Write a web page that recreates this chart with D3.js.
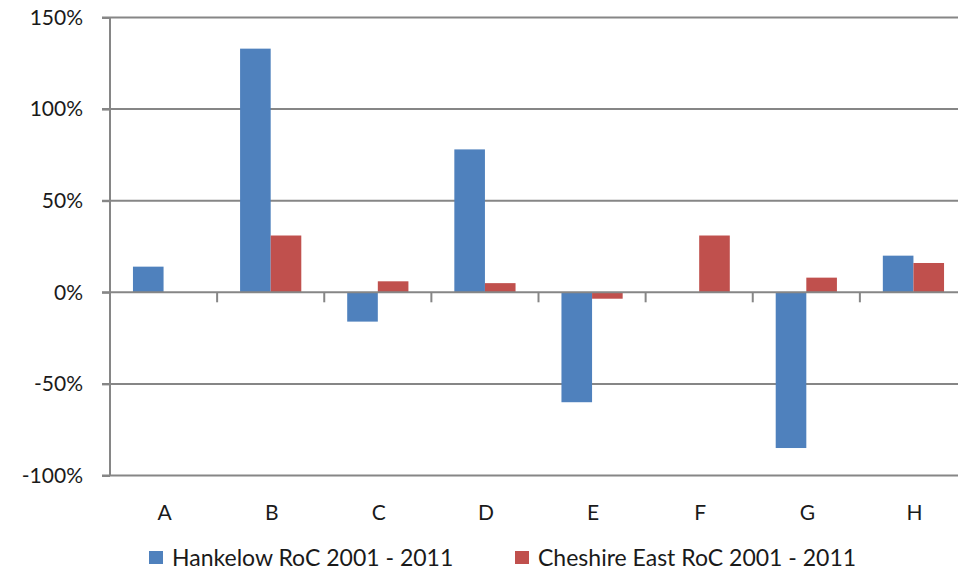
<!DOCTYPE html>
<html>
<head>
<meta charset="utf-8">
<script src="https://cdn.jsdelivr.net/npm/d3@7"></script>
<style>
  html, body { margin: 0; padding: 0; background: #fff; }
  svg { display: block; font-family: Lato, "Open Sans", sans-serif; }
</style>
</head>
<body>
<svg id="chart" width="958" height="573"></svg>
<script>
// Rate of change 2001 - 2011, by category
const categories = ["A", "B", "C", "D", "E", "F", "G", "H"];
const hankelow = [14, 133, -16, 78, -60, 0, -85, 20];
const cheshireEast = [0, 31, 6, 5, -3.5, 31, 8, 16];
const seriesNames = ["Hankelow RoC 2001 - 2011", "Cheshire East RoC 2001 - 2011"];
const seriesColors = ["#4f81bd", "#c0504d"];
const yTicks = [-100, -50, 0, 50, 100, 150];

const svg = d3.select("#chart");
const axisColor = "#868686";
const textColor = "#1a1a1a";

const x = d3.scaleBand().domain(categories).range([110, 967]).paddingInner(0).paddingOuter(0);
const y = d3.scaleLinear().domain([-100, 150]).range([475.5, 17.5]);

// Clustered bars: gap between groups is 150% of a bar width
const bw = x.bandwidth();
const barW = bw / 3.5;
const gap = barW * 0.75;
const sub = d3.scaleBand().domain([0, 1]).range([gap, gap + 2 * barW]);

// Horizontal gridlines
svg.append("g")
  .selectAll("line")
  .data(yTicks.filter(t => t !== 0))
  .join("line")
  .attr("x1", 102).attr("x2", 967)
  .attr("y1", d => y(d)).attr("y2", d => y(d))
  .attr("stroke", axisColor).attr("stroke-width", 2);

// Bars
const series = [hankelow, cheshireEast];
series.forEach((vals, si) => {
  svg.append("g")
    .selectAll("rect")
    .data(vals.map((v, i) => ({ cat: categories[i], v })))
    .join("rect")
    .attr("x", d => x(d.cat) + sub(si))
    .attr("width", sub.bandwidth())
    .attr("y", d => y(Math.max(0, d.v)))
    .attr("height", d => Math.abs(y(d.v) - y(0)))
    .attr("fill", seriesColors[si]);
});

// Y axis
const yAxis = svg.append("g")
  .attr("transform", "translate(110,0)")
  .call(d3.axisLeft(y).tickValues(yTicks).tickSize(8).tickPadding(19)
    .tickFormat(d => d + "%"));
yAxis.select(".domain").attr("stroke", axisColor).attr("stroke-width", 2)
  .attr("d", `M0,${y(-100)}V${y(150)}`);
yAxis.selectAll(".tick line").attr("stroke", axisColor).attr("stroke-width", 2);
yAxis.selectAll(".tick text").attr("fill", textColor).style("font-size", "21px")
  .attr("font-family", "Lato, sans-serif");

// X axis at zero, tick marks on category boundaries
const y0 = y(0);
svg.append("line")
  .attr("x1", 102).attr("x2", 967).attr("y1", y0).attr("y2", y0)
  .attr("stroke", axisColor).attr("stroke-width", 2);
svg.append("g")
  .selectAll("line")
  .data(categories)
  .join("line")
  .attr("x1", d => x(d) + bw)
  .attr("x2", d => x(d) + bw)
  .attr("y1", y0).attr("y2", y0 + 10)
  .attr("stroke", axisColor).attr("stroke-width", 2);

// Category labels below the plot
svg.append("g")
  .selectAll("text")
  .data(categories)
  .join("text")
  .attr("x", d => x(d) + bw / 2 + 1)
  .attr("y", 520)
  .attr("text-anchor", "middle")
  .attr("fill", textColor)
  .style("font-size", "21px")
  .text(d => d);

// Legend
const legendX = [149, 515];
const legend = svg.append("g");
seriesNames.forEach((name, i) => {
  legend.append("rect")
    .attr("x", legendX[i]).attr("y", 551)
    .attr("width", 14).attr("height", 13)
    .attr("fill", seriesColors[i]);
  legend.append("text")
    .attr("x", legendX[i] + 23).attr("y", 566)
    .attr("fill", textColor)
    .style("font-size", "23px")
    .text(name);
});
</script>
</body>
</html>
